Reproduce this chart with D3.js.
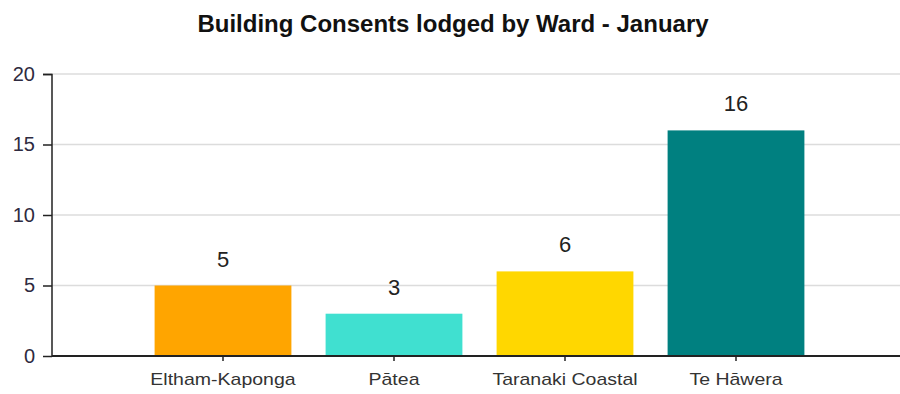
<!DOCTYPE html>
<html>
<head>
<meta charset="utf-8">
<script src="https://cdn.jsdelivr.net/npm/d3@7"></script>
<style>
  html, body { margin: 0; padding: 0; background: #fff; }
  svg { display: block; font-family: Arial, "Liberation Sans", sans-serif; }
</style>
</head>
<body>
<svg id="chart" width="900" height="394"></svg>
<script>
const title = "Building Consents lodged by Ward - January";
const categories = ["Eltham-Kaponga", "Pātea", "Taranaki Coastal", "Te Hāwera"];
const values = [5, 3, 6, 16];
const colors = ["#FFA500", "#40E0D0", "#FFD700", "#008080"];
const yTicks = [0, 5, 10, 15, 20];

const W = 900, H = 394;
const svg = d3.select("#chart");

const y = d3.scaleLinear().domain([0, 20]).range([356, 74]);
const x = d3.scaleBand().domain(categories).range([52, 907]).paddingInner(0.2).paddingOuter(0.6);

// gridlines
svg.append("g").selectAll("line").data(yTicks.filter(d => d > 0)).join("line")
  .attr("x1", 52).attr("x2", W)
  .attr("y1", d => y(d)).attr("y2", d => y(d))
  .attr("stroke", "#dcdcdc").attr("stroke-width", 1.5);

// bars
svg.append("g").selectAll("rect").data(values).join("rect")
  .attr("x", (d, i) => x(categories[i]))
  .attr("width", x.bandwidth())
  .attr("y", d => y(d))
  .attr("height", d => y(0) - y(d))
  .attr("fill", (d, i) => colors[i]);

// value labels
svg.append("g").selectAll("text").data(values).join("text")
  .attr("x", (d, i) => x(categories[i]) + x.bandwidth() / 2)
  .attr("y", d => y(d) - 19)
  .attr("text-anchor", "middle")
  .attr("font-size", 22)
  .attr("fill", "#222")
  .text(d => d);

// y axis
const yAxis = d3.axisLeft(y).tickValues(yTicks).tickSize(9).tickPadding(8);
const gy = svg.append("g").attr("transform", "translate(52,0)").call(yAxis);
gy.select(".domain").attr("stroke", "#222").attr("stroke-width", 1.5).attr("d", "M-9,74.5H0V356");
gy.selectAll(".tick line").attr("stroke", "#222").attr("stroke-width", 1.5);
gy.selectAll(".tick text").attr("font-size", 20).attr("fill", "#2e2a40").attr("font-family", "Arial, 'Liberation Sans', sans-serif");

// x axis
const xAxis = d3.axisBottom(x).tickSize(5).tickPadding(13).tickSizeOuter(0);
const gx = svg.append("g").attr("transform", "translate(0,356)").call(xAxis);
gx.select(".domain").attr("stroke", "#222").attr("stroke-width", 2).attr("d", "M52,0H900");
gx.selectAll(".tick line").attr("stroke", "#222").attr("stroke-width", 1.5);
gx.selectAll(".tick text").attr("font-size", 16).attr("fill", "#333")
  .attr("font-family", "Arial, 'Liberation Sans', sans-serif")
  .attr("transform", "scale(1.22,1)");

// title
svg.append("text")
  .attr("x", 453).attr("y", 32)
  .attr("text-anchor", "middle")
  .attr("font-size", 24).attr("font-weight", "bold")
  .attr("fill", "#111")
  .text(title);
</script>
</body>
</html>
